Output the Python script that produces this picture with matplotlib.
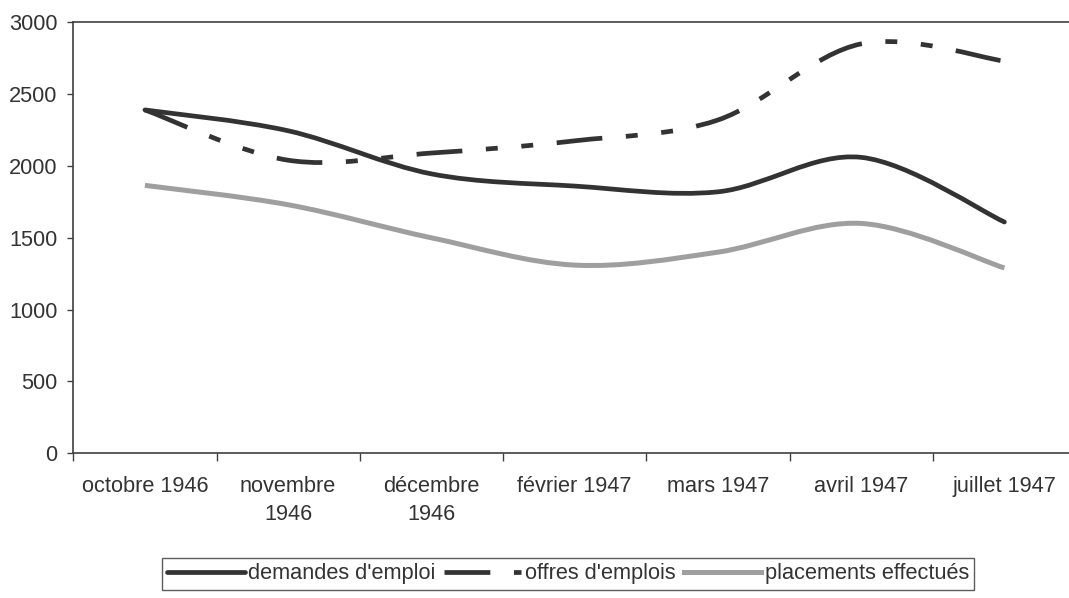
import matplotlib
matplotlib.use("Agg")
import matplotlib.pyplot as plt
from matplotlib.path import Path
from matplotlib.patches import PathPatch
from matplotlib.lines import Line2D

plt.rcParams['font.family'] = ['Liberation Sans', 'DejaVu Sans']
plt.rcParams['lines.scale_dashes'] = False

# données
mois = ['octobre 1946', 'novembre\n1946', 'décembre\n1946', 'février 1947',
        'mars 1947', 'avril 1947', 'juillet 1947']
demandes = [2390, 2245, 1945, 1860, 1820, 2060, 1610]
offres = [2390, 2040, 2090, 2175, 2320, 2850, 2730]
placements = [1865, 1730, 1500, 1310, 1400, 1600, 1290]


def smooth_path(ys):
    # courbe lissée façon Excel (Bézier passant par chaque point)
    xs = list(range(len(ys)))
    pts = list(zip(xs, ys))
    verts = [pts[0]]
    codes = [Path.MOVETO]
    n = len(pts)
    for i in range(n - 1):
        p0 = pts[max(i - 1, 0)]
        p1 = pts[i]
        p2 = pts[i + 1]
        p3 = pts[min(i + 2, n - 1)]
        c1 = (p1[0] + (p2[0] - p0[0]) / 6, p1[1] + (p2[1] - p0[1]) / 6)
        c2 = (p2[0] - (p3[0] - p1[0]) / 6, p2[1] - (p3[1] - p1[1]) / 6)
        verts += [c1, c2, p2]
        codes += [Path.CURVE4] * 3
    return Path(verts, codes)


dark = '#333333'
grey = '#9f9f9f'
dash_style = (0, (33, 17, 8.6, 17, 8.6, 17))
fs = 15.7

fig = plt.figure(figsize=(10.69, 5.98), dpi=100)
ax = fig.add_axes([73.3 / 1069, 1 - 453.3 / 598, (1076 - 73.3) / 1069, (453.3 - 22.3) / 598])

ax.add_patch(PathPatch(smooth_path(placements), fill=False, edgecolor=grey, lw=3.6,
                       capstyle='butt', joinstyle='round'))
ax.add_patch(PathPatch(smooth_path(offres), fill=False, edgecolor=dark, lw=3.4,
                       linestyle=dash_style, capstyle='butt', joinstyle='round'))
ax.add_patch(PathPatch(smooth_path(demandes), fill=False, edgecolor=dark, lw=3.4,
                       capstyle='round', joinstyle='round'))

ax.set_xlim(-0.5, len(mois) - 0.5)
ax.set_ylim(0, 3000)
ax.set_yticks(range(0, 3001, 500))

ax.set_xticks([i - 0.5 for i in range(len(mois) + 1)])
ax.set_xticklabels([])
ax.set_xticks(range(len(mois)), minor=True)
ax.set_xticklabels(mois, minor=True, fontsize=fs, color='#333333', linespacing=1.44)
ax.tick_params(axis='x', which='minor', length=0, pad=16)
ax.tick_params(axis='x', which='major', length=5.5, width=1, color='#404040')
ax.tick_params(axis='y', length=4.3, width=1, color='#404040', pad=7,
               labelsize=fs, labelcolor='#333333')

for s in ax.spines.values():
    s.set_color('#404040')
    s.set_linewidth(1.2)

handles = [
    Line2D([], [], color=dark, lw=3.4, solid_capstyle='round'),
    Line2D([], [], color=dark, lw=3.4, linestyle=dash_style, dash_capstyle='butt'),
    Line2D([], [], color=grey, lw=3.6),
]
labels = ["demandes d'emploi", "offres d'emplois", "placements effectués"]
leg = fig.legend(handles, labels, loc='upper left', bbox_to_anchor=(161.7 / 1069, 1 - 558 / 598),
                 ncol=3, fontsize=fs, frameon=True, fancybox=False, borderpad=0.25,
                 handlelength=3.55, handletextpad=0.15, columnspacing=0.4, borderaxespad=0)
leg.get_frame().set_edgecolor('#333333')
leg.get_frame().set_linewidth(1)
for t in leg.get_texts():
    t.set_color('#333333')

fig.savefig('out.png', dpi=100)
